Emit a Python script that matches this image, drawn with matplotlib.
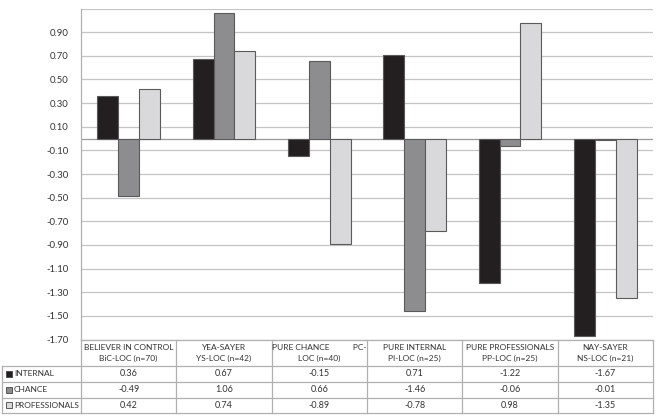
import numpy as np
import matplotlib
matplotlib.use("Agg")
import matplotlib.pyplot as plt
import matplotlib.patches as mpatches

plt.rcParams["font.family"] = ["Lato", "DejaVu Sans"]

# ---------------------------------------------------------------------------
# Data
# ---------------------------------------------------------------------------
GROUPS = [
    "BELIEVER IN CONTROL\nBiC-LOC (n=70)",
    "YEA-SAYER\nYS-LOC (n=42)",
    "PURE CHANCE           PC-\nLOC (n=40)",
    "PURE INTERNAL\nPI-LOC (n=25)",
    "PURE PROFESSIONALS\nPP-LOC (n=25)",
    "NAY-SAYER\nNS-LOC (n=21)",
]
SERIES = ["INTERNAL", "CHANCE", "PROFESSIONALS"]
internal = [0.36, 0.67, -0.15, 0.71, -1.22, -1.67]
chance = [-0.49, 1.06, 0.66, -1.46, -0.06, -0.01]
professionals = [0.42, 0.74, -0.89, -0.78, 0.98, -1.35]
VALUES = [internal, chance, professionals]

COLORS = ["#231f20", "#8d8d8f", "#d9d9db"]
EDGE = "#5a5a5a"
GRID = "#c4c4c4"
FS = 6.0

W, H = 659, 416
fig = plt.figure(figsize=(W / 100, H / 100), dpi=100)

# plot area in pixel coordinates
L, R, T, B = 81, 653, 8.5, 339.5
ax = fig.add_axes([L / W, 1 - B / H, (R - L) / W, (B - T) / H])

n = len(GROUPS)
x = np.arange(n)
bw = 0.22
for i, (vals, col) in enumerate(zip(VALUES, COLORS)):
    ax.bar(x + (i - 1) * bw, vals, width=bw, color=col, edgecolor=EDGE,
           linewidth=0.8, zorder=3)

ticks = np.round(np.arange(-1.7, 1.11, 0.2), 2)
ax.set_yticks(ticks)
ax.set_yticklabels([f"{t:.2f}" if t < 1.0 else "" for t in ticks],
                   fontsize=6.8, color="#333333")
ax.set_ylim(-1.70, 1.10)
ax.set_xlim(-0.5, n - 0.5)
ax.set_xticks([])
ax.tick_params(axis="y", length=0, pad=9)
ax.grid(axis="y", color=GRID, linewidth=0.9, zorder=0)
ax.axhline(0, color="#9a9a9a", linewidth=0.9, zorder=2)
for s in ["top", "right", "bottom"]:
    ax.spines[s].set_visible(False)
ax.spines["left"].set_color("#b0b0b0")
ax.spines["left"].set_linewidth(0.9)

# ---------------------------------------------------------------------------
# Data table below the chart
# ---------------------------------------------------------------------------
tax = fig.add_axes([0, 0, 1, 1])
tax.set_xlim(0, W)
tax.set_ylim(H, 0)
tax.axis("off")

col_edges = np.linspace(L, R, n + 1)
row_edges = [B, 366, 382, 397.5, 412.5]
lkw = dict(color="#b0b0b0", linewidth=0.9)
LX = 2

# horizontal lines
tax.plot([L, R], [row_edges[0]] * 2, **lkw)
for yy in row_edges[1:]:
    tax.plot([LX, R], [yy, yy], **lkw)
# vertical lines
for xx in col_edges:
    tax.plot([xx, xx], [row_edges[0], row_edges[-1]], **lkw)
tax.plot([LX, LX], [row_edges[1], row_edges[-1]], **lkw)

tkw = dict(fontsize=FS, color="#333333", ha="center", va="center")
for j, g in enumerate(GROUPS):
    cx = (col_edges[j] + col_edges[j + 1]) / 2
    tax.text(cx, (row_edges[0] + row_edges[1]) / 2, g, linespacing=1.7, **tkw)
    for i, vals in enumerate(VALUES):
        cy = (row_edges[i + 1] + row_edges[i + 2]) / 2
        tax.text(cx, cy, f"{vals[j]:.2f}", fontsize=6.5, color="#333333",
                 ha="center", va="center")

for i, (name, col) in enumerate(zip(SERIES, COLORS)):
    cy = (row_edges[i + 1] + row_edges[i + 2]) / 2
    tax.add_patch(mpatches.Rectangle((6, cy - 3), 6, 6, facecolor=col,
                                     edgecolor="#444444", linewidth=0.6))
    tax.text(14, cy, name, fontsize=FS, color="#333333", ha="left", va="center")

fig.savefig("out.png", dpi=100)
